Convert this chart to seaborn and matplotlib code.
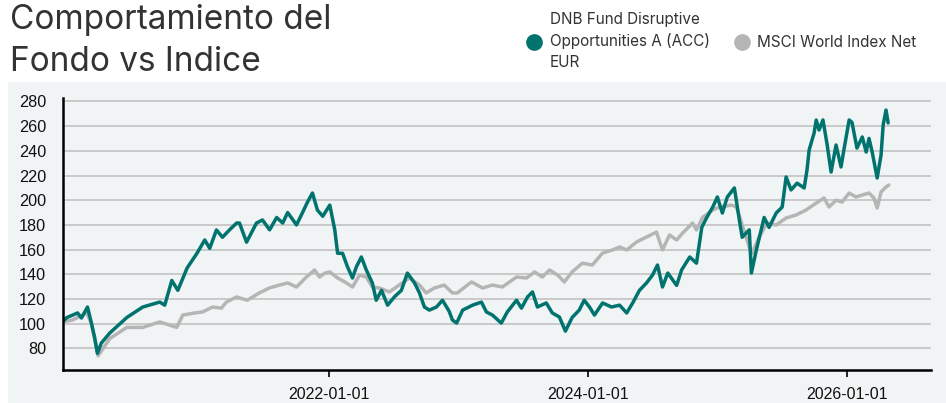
import matplotlib
matplotlib.use("Agg")
import matplotlib.pyplot as plt
import matplotlib.dates as mdates
from matplotlib.lines import Line2D
from matplotlib.patches import Rectangle
import pandas as pd
import seaborn as sns

# values (base 100)
fund_name = "DNB Fund Disruptive\nOpportunities A (ACC)\nEUR"
index_name = "MSCI World Index Net"

fund_dates = [
    "2019-12-12", "2019-12-23", "2020-01-08", "2020-01-22", "2020-02-02", "2020-02-19",
    "2020-03-01", "2020-03-10", "2020-03-18", "2020-03-29", "2020-04-22", "2020-06-09",
    "2020-07-24", "2020-09-10", "2020-09-24", "2020-10-14", "2020-10-31", "2020-11-26",
    "2020-12-24", "2021-01-15", "2021-01-29", "2021-02-17", "2021-03-06", "2021-03-26",
    "2021-04-15", "2021-04-23", "2021-05-13", "2021-06-10", "2021-06-27", "2021-07-17",
    "2021-08-06", "2021-08-23", "2021-09-06", "2021-10-01", "2021-10-18", "2021-11-01",
    "2021-11-15", "2021-11-29", "2021-12-14", "2022-01-03", "2022-01-17", "2022-01-25",
    "2022-02-08", "2022-02-22", "2022-03-08", "2022-03-19", "2022-04-02", "2022-04-16",
    "2022-05-03", "2022-05-14", "2022-05-29", "2022-06-15", "2022-07-04", "2022-07-24",
    "2022-08-10", "2022-08-30", "2022-09-13", "2022-09-27", "2022-10-11", "2022-10-31",
    "2022-11-17", "2022-12-06", "2022-12-15", "2022-12-27", "2023-01-13", "2023-02-10",
    "2023-03-07", "2023-03-21", "2023-04-07", "2023-05-02", "2023-05-19", "2023-06-14",
    "2023-06-28", "2023-07-15", "2023-07-29", "2023-08-12", "2023-09-06", "2023-09-23",
    "2023-10-13", "2023-10-30", "2023-11-18", "2023-12-08", "2023-12-22", "2024-01-06",
    "2024-01-20", "2024-02-12", "2024-03-08", "2024-03-31", "2024-04-20", "2024-05-07",
    "2024-05-26", "2024-06-15", "2024-07-02", "2024-07-16", "2024-07-30", "2024-08-14",
    "2024-09-08", "2024-09-22", "2024-10-15", "2024-11-03", "2024-11-18", "2024-12-02",
    "2024-12-19", "2025-01-01", "2025-01-15", "2025-01-29", "2025-02-18", "2025-03-04",
    "2025-03-12", "2025-04-01", "2025-04-07", "2025-04-21", "2025-05-13", "2025-05-27",
    "2025-06-16", "2025-07-03", "2025-07-14", "2025-07-28", "2025-08-14", "2025-09-03",
    "2025-09-11", "2025-09-17", "2025-10-01", "2025-10-07", "2025-10-15", "2025-10-26",
    "2025-11-07", "2025-11-18", "2025-12-02", "2025-12-16", "2025-12-25", "2026-01-08",
    "2026-01-16", "2026-01-30", "2026-02-14", "2026-02-25", "2026-03-05", "2026-03-14",
    "2026-03-28", "2026-04-08", "2026-04-14", "2026-04-22", "2026-04-28",
]
fund_values = [
    102, 105, 107, 108.7, 104.6, 113.5,
    100.5, 89, 76, 84.3, 92.5, 105,
    113.5, 117.5, 115, 135, 127, 145,
    157, 167.8, 161, 175.9, 170, 176,
    181.5, 181.5, 166, 181.5, 184, 176,
    186, 181.5, 190, 180, 190, 198.5,
    205.8, 192, 187, 196, 176, 157,
    157, 146, 137, 146, 154, 143.5,
    133, 119, 127, 115, 121.6, 127,
    141, 133, 125, 113.5, 111, 113.5,
    119, 110, 103, 100.5, 111, 115,
    117.5, 109.5, 107, 100.5, 109.5, 119,
    112.6, 121.6, 125.7, 113.5, 116.8, 108.7,
    105.4, 94, 105, 111, 119, 113.5,
    107, 116.8, 113.5, 115, 108.7, 116.8,
    127, 133, 139.4, 147.5, 129.7, 141,
    131, 143.5, 154, 149, 178, 186,
    194.5, 202.6, 189.6, 202.6, 209.9, 184,
    170, 176, 141, 159.7, 186, 178,
    189.6, 194.5, 218.8, 208.3, 213.8, 209.9,
    224.4, 240.6, 254.4, 264.9, 256.8, 265,
    244.7, 222.8, 244.7, 226.9, 242.2, 265,
    263, 242.2, 251.2, 239, 250, 239,
    218, 236.5, 261, 273, 262.6,
]

index_dates = [
    "2019-12-12", "2020-01-08", "2020-02-17", "2020-03-01", "2020-03-20", "2020-04-22",
    "2020-06-09", "2020-07-24", "2020-09-10", "2020-10-28", "2020-11-14", "2020-12-18",
    "2021-01-09", "2021-02-06", "2021-03-03", "2021-03-17", "2021-04-15", "2021-05-15",
    "2021-06-18", "2021-07-17", "2021-08-14", "2021-09-06", "2021-10-01", "2021-10-29",
    "2021-11-21", "2021-12-05", "2021-12-20", "2022-01-03", "2022-01-25", "2022-02-19",
    "2022-03-08", "2022-03-28", "2022-04-16", "2022-05-03", "2022-05-23", "2022-06-20",
    "2022-07-18", "2022-08-16", "2022-09-13", "2022-10-02", "2022-10-25", "2022-11-22",
    "2022-12-15", "2022-12-29", "2023-02-07", "2023-03-10", "2023-04-07", "2023-05-05",
    "2023-06-14", "2023-07-12", "2023-08-04", "2023-08-26", "2023-09-15", "2023-10-08",
    "2023-10-27", "2023-11-18", "2023-12-17", "2024-01-14", "2024-02-12", "2024-03-11",
    "2024-03-31", "2024-04-20", "2024-05-18", "2024-06-15", "2024-07-13", "2024-07-30",
    "2024-08-19", "2024-09-08", "2024-09-25", "2024-10-23", "2024-11-03", "2024-11-20",
    "2024-12-19", "2025-01-07", "2025-02-10", "2025-02-24", "2025-03-12", "2025-04-01",
    "2025-04-09", "2025-04-29", "2025-05-21", "2025-06-16", "2025-07-14", "2025-08-11",
    "2025-09-08", "2025-10-07", "2025-10-29", "2025-11-12", "2025-12-02", "2025-12-19",
    "2026-01-08", "2026-01-27", "2026-02-14", "2026-03-05", "2026-03-19", "2026-03-28",
    "2026-04-08", "2026-04-22", "2026-04-30",
]
index_values = [
    101.5, 103, 108.7, 100, 74, 88,
    97, 97, 101.4, 97, 107, 108.7,
    109.5, 113.5, 112.6, 117.5, 121.6, 119,
    124.9, 129, 131.3, 133, 129.7, 137.8,
    143.5, 137.8, 141, 141.9, 137, 133,
    129.7, 139.4, 137.8, 129.7, 128.9, 125.7,
    131.3, 137, 131.3, 124.9, 128.9, 131.3,
    124.9, 124.9, 133.8, 128.9, 131.3, 129.7,
    137.8, 137, 141.9, 137.8, 143.5, 139.4,
    133.8, 141.9, 149, 147.5, 157.2, 159.7,
    162.1, 159.7, 166.2, 170.2, 174.2, 159.7,
    171.8, 167.8, 173.4, 181.5, 175.9, 186,
    192, 194.5, 196, 194.5, 179.9, 162.1,
    157.2, 170.2, 181.5, 179.9, 185.6, 188,
    192, 197.7, 201.8, 194.5, 200, 198.5,
    205.8, 202.6, 204.2, 205.8, 201.8, 193.7,
    206.6, 210.7, 212.3,
]

x_ticks = ["2022-01-01", "2024-01-01", "2026-01-01"]
y_ticks = [80, 100, 120, 140, 160, 180, 200, 220, 240, 260, 280]

teal = "#00736f"
grey = "#b5b5b5"
panel = "#f0f4f5"

df = pd.concat([
    pd.DataFrame({"fecha": pd.to_datetime(index_dates), "valor": index_values, "serie": index_name}),
    pd.DataFrame({"fecha": pd.to_datetime(fund_dates), "valor": fund_values, "serie": fund_name}),
])

sns.set_theme(style="white")
plt.rcParams["font.family"] = ["Liberation Sans", "DejaVu Sans"]

fig = plt.figure(figsize=(9.46, 4.03), dpi=100)
fig.patch.set_facecolor("white")
# light panel behind the plot area
fig.patches.append(Rectangle((8 / 946, 0), 1, 1 - 82 / 403, transform=fig.transFigure,
                             facecolor=panel, edgecolor="none", zorder=-10))

ax = fig.add_axes([62.7 / 946, 1 - 370 / 403, (931 - 62.7) / 946, (370 - 97.7) / 403])
ax.set_facecolor(panel)

sns.lineplot(data=df, x="fecha", y="valor", hue="serie", hue_order=[index_name, fund_name],
             palette={index_name: grey, fund_name: teal}, estimator=None, sort=False,
             linewidth=2.5, legend=False, ax=ax)

ax.set_xlim(pd.Timestamp("2019-12-11"), pd.Timestamp("2026-08-27"))
ax.set_ylim(62.5, 283)
ax.set_yticks(y_ticks)
ax.set_xticks(pd.to_datetime(x_ticks))
ax.xaxis.set_major_formatter(mdates.DateFormatter("%Y-%m-%d"))
ax.set_xlabel("")
ax.set_ylabel("")
ax.grid(axis="y", color="#c9c9c9", linewidth=1.4)
ax.set_axisbelow(True)
for side in ["top", "right"]:
    ax.spines[side].set_visible(False)
for side in ["left", "bottom"]:
    ax.spines[side].set_color("black")
    ax.spines[side].set_linewidth(1.8)
ax.tick_params(axis="y", length=0, pad=12, labelsize=11.7, labelcolor="#111111")
ax.tick_params(axis="x", length=5, width=1.2, color="black", pad=7, labelsize=11.5,
               labelcolor="#111111", bottom=True)

fig.text(10 / 946, 1 - 41 / 403, "Comportamiento del\nFondo vs Indice", ha="left", va="center",
         fontsize=24, color="#333333", family=["Inter", "DejaVu Sans"], linespacing=1.38)

handles = [
    Line2D([], [], linestyle="none", marker="o", markersize=11, color=teal),
    Line2D([], [], linestyle="none", marker="o", markersize=11, color=grey),
]
leg = fig.legend(handles, [fund_name, index_name], loc="center left", ncol=2, frameon=False,
                 bbox_to_anchor=(513 / 946, 1 - 41 / 403), handletextpad=0.5, columnspacing=1.6,
                 prop={"family": ["Inter", "DejaVu Sans"], "size": 11}, labelcolor="#333333",
                 handlelength=1.0)
for t in leg.get_texts():
    t.set_linespacing(1.45)

fig.savefig("out.png", dpi=100, facecolor=fig.get_facecolor())
